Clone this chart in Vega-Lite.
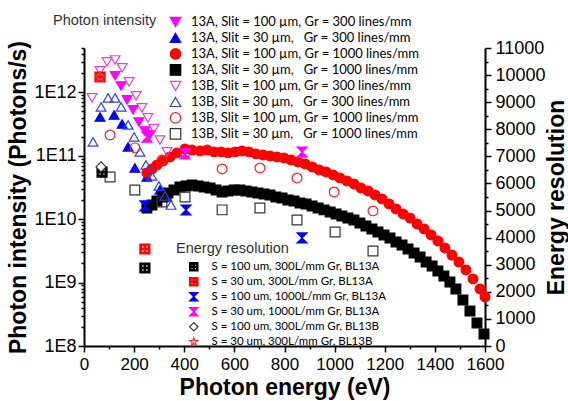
{
  "$schema": "https://vega.github.io/schema/vega-lite/v6.json",
  "width": 401,
  "height": 298,
  "autosize": {"type": "none"},
  "padding": {"left": 84, "top": 48, "right": 83, "bottom": 55},
  "config": {
    "view": {"stroke": null},
    "axis": {"grid": false, "domainColor": "black", "domainWidth": 2, "tickColor": "black", "tickWidth": 1.5, "labelColor": "black", "titleColor": "black", "labelFont": "Liberation Sans", "titleFont": "Liberation Sans", "labelFlush": false, "labelOverlap": false, "titleFontWeight": "bold", "titleFontSize": 23}
  },
  "datasets": {
    "intensity": [
      {"s": "13A, Slit = 100 µm, Gr = 300 lines/mm", "e": 124, "v": 1.82e12},
      {"s": "13A, Slit = 100 µm, Gr = 300 lines/mm", "e": 148, "v": 1.26e12},
      {"s": "13A, Slit = 100 µm, Gr = 300 lines/mm", "e": 172, "v": 7.59e11},
      {"s": "13A, Slit = 100 µm, Gr = 300 lines/mm", "e": 196, "v": 5.28e11},
      {"s": "13A, Slit = 100 µm, Gr = 300 lines/mm", "e": 219, "v": 3.41e11},
      {"s": "13A, Slit = 100 µm, Gr = 300 lines/mm", "e": 243, "v": 2.46e11},
      {"s": "13A, Slit = 100 µm, Gr = 300 lines/mm", "e": 263, "v": 2.13e11},

      {"s": "13A, Slit = 30 µm,\u00a0\u00a0 Gr = 300 lines/mm", "e": 64, "v": 4.09e11},
      {"s": "13A, Slit = 30 µm,\u00a0\u00a0 Gr = 300 lines/mm", "e": 120, "v": 4.40e11},
      {"s": "13A, Slit = 30 µm,\u00a0\u00a0 Gr = 300 lines/mm", "e": 152, "v": 3.17e11},
      {"s": "13A, Slit = 30 µm,\u00a0\u00a0 Gr = 300 lines/mm", "e": 176, "v": 1.38e11},
      {"s": "13A, Slit = 30 µm,\u00a0\u00a0 Gr = 300 lines/mm", "e": 203, "v": 6.43e10},
      {"s": "13A, Slit = 30 µm,\u00a0\u00a0 Gr = 300 lines/mm", "e": 251, "v": 4.63e10},
      {"s": "13A, Slit = 30 µm,\u00a0\u00a0 Gr = 300 lines/mm", "e": 303, "v": 2.89e10},
      {"s": "13A, Slit = 30 µm,\u00a0\u00a0 Gr = 300 lines/mm", "e": 331, "v": 2.24e10},

      {"s": "13A, Slit = 100 µm, Gr = 1000 lines/mm", "e": 251, "v": 5.36e10},
      {"s": "13A, Slit = 100 µm, Gr = 1000 lines/mm", "e": 271, "v": 6.19e10},
      {"s": "13A, Slit = 100 µm, Gr = 1000 lines/mm", "e": 291, "v": 7.16e10},
      {"s": "13A, Slit = 100 µm, Gr = 1000 lines/mm", "e": 315, "v": 8.28e10},
      {"s": "13A, Slit = 100 µm, Gr = 1000 lines/mm", "e": 343, "v": 9.57e10},
      {"s": "13A, Slit = 100 µm, Gr = 1000 lines/mm", "e": 371, "v": 1.11e11},
      {"s": "13A, Slit = 100 µm, Gr = 1000 lines/mm", "e": 403, "v": 1.28e11},
      {"s": "13A, Slit = 100 µm, Gr = 1000 lines/mm", "e": 431, "v": 1.23e11},
      {"s": "13A, Slit = 100 µm, Gr = 1000 lines/mm", "e": 463, "v": 1.19e11},
      {"s": "13A, Slit = 100 µm, Gr = 1000 lines/mm", "e": 491, "v": 1.23e11},
      {"s": "13A, Slit = 100 µm, Gr = 1000 lines/mm", "e": 519, "v": 1.15e11},
      {"s": "13A, Slit = 100 µm, Gr = 1000 lines/mm", "e": 547, "v": 1.15e11},
      {"s": "13A, Slit = 100 µm, Gr = 1000 lines/mm", "e": 575, "v": 1.11e11},
      {"s": "13A, Slit = 100 µm, Gr = 1000 lines/mm", "e": 603, "v": 1.15e11},
      {"s": "13A, Slit = 100 µm, Gr = 1000 lines/mm", "e": 630, "v": 1.19e11},
      {"s": "13A, Slit = 100 µm, Gr = 1000 lines/mm", "e": 658, "v": 1.15e11},
      {"s": "13A, Slit = 100 µm, Gr = 1000 lines/mm", "e": 686, "v": 1.07e11},
      {"s": "13A, Slit = 100 µm, Gr = 1000 lines/mm", "e": 714, "v": 1.03e11},
      {"s": "13A, Slit = 100 µm, Gr = 1000 lines/mm", "e": 742, "v": 9.93e10},
      {"s": "13A, Slit = 100 µm, Gr = 1000 lines/mm", "e": 770, "v": 9.57e10},
      {"s": "13A, Slit = 100 µm, Gr = 1000 lines/mm", "e": 798, "v": 9.23e10},
      {"s": "13A, Slit = 100 µm, Gr = 1000 lines/mm", "e": 826, "v": 8.59e10},
      {"s": "13A, Slit = 100 µm, Gr = 1000 lines/mm", "e": 854, "v": 7.98e10},
      {"s": "13A, Slit = 100 µm, Gr = 1000 lines/mm", "e": 882, "v": 7.43e10},
      {"s": "13A, Slit = 100 µm, Gr = 1000 lines/mm", "e": 910, "v": 6.66e10},
      {"s": "13A, Slit = 100 µm, Gr = 1000 lines/mm", "e": 938, "v": 5.97e10},
      {"s": "13A, Slit = 100 µm, Gr = 1000 lines/mm", "e": 966, "v": 5.55e10},
      {"s": "13A, Slit = 100 µm, Gr = 1000 lines/mm", "e": 994, "v": 4.98e10},
      {"s": "13A, Slit = 100 µm, Gr = 1000 lines/mm", "e": 1021, "v": 4.47e10},
      {"s": "13A, Slit = 100 µm, Gr = 1000 lines/mm", "e": 1049, "v": 4.01e10},
      {"s": "13A, Slit = 100 µm, Gr = 1000 lines/mm", "e": 1077, "v": 3.59e10},
      {"s": "13A, Slit = 100 µm, Gr = 1000 lines/mm", "e": 1105, "v": 3.10e10},
      {"s": "13A, Slit = 100 µm, Gr = 1000 lines/mm", "e": 1133, "v": 2.79e10},
      {"s": "13A, Slit = 100 µm, Gr = 1000 lines/mm", "e": 1161, "v": 2.41e10},
      {"s": "13A, Slit = 100 µm, Gr = 1000 lines/mm", "e": 1189, "v": 2.08e10},
      {"s": "13A, Slit = 100 µm, Gr = 1000 lines/mm", "e": 1217, "v": 1.74e10},
      {"s": "13A, Slit = 100 µm, Gr = 1000 lines/mm", "e": 1245, "v": 1.45e10},
      {"s": "13A, Slit = 100 µm, Gr = 1000 lines/mm", "e": 1273, "v": 1.21e10},
      {"s": "13A, Slit = 100 µm, Gr = 1000 lines/mm", "e": 1301, "v": 1.04e10},
      {"s": "13A, Slit = 100 µm, Gr = 1000 lines/mm", "e": 1329, "v": 8.40e9},
      {"s": "13A, Slit = 100 µm, Gr = 1000 lines/mm", "e": 1357, "v": 7.00e9},
      {"s": "13A, Slit = 100 µm, Gr = 1000 lines/mm", "e": 1385, "v": 5.64e9},
      {"s": "13A, Slit = 100 µm, Gr = 1000 lines/mm", "e": 1412, "v": 4.53e9},
      {"s": "13A, Slit = 100 µm, Gr = 1000 lines/mm", "e": 1440, "v": 3.51e9},
      {"s": "13A, Slit = 100 µm, Gr = 1000 lines/mm", "e": 1468, "v": 2.72e9},
      {"s": "13A, Slit = 100 µm, Gr = 1000 lines/mm", "e": 1496, "v": 2.11e9},
      {"s": "13A, Slit = 100 µm, Gr = 1000 lines/mm", "e": 1524, "v": 1.58e9},
      {"s": "13A, Slit = 100 µm, Gr = 1000 lines/mm", "e": 1552, "v": 1.14e9},
      {"s": "13A, Slit = 100 µm, Gr = 1000 lines/mm", "e": 1580, "v": 7.93e8},
      {"s": "13A, Slit = 100 µm, Gr = 1000 lines/mm", "e": 1600, "v": 5.93e8},

      {"s": "13A, Slit = 30 µm,\u00a0\u00a0 Gr = 1000 lines/mm", "e": 251, "v": 1.50e10},
      {"s": "13A, Slit = 30 µm,\u00a0\u00a0 Gr = 1000 lines/mm", "e": 271, "v": 1.67e10},
      {"s": "13A, Slit = 30 µm,\u00a0\u00a0 Gr = 1000 lines/mm", "e": 291, "v": 1.94e10},
      {"s": "13A, Slit = 30 µm,\u00a0\u00a0 Gr = 1000 lines/mm", "e": 315, "v": 2.24e10},
      {"s": "13A, Slit = 30 µm,\u00a0\u00a0 Gr = 1000 lines/mm", "e": 335, "v": 2.59e10},
      {"s": "13A, Slit = 30 µm,\u00a0\u00a0 Gr = 1000 lines/mm", "e": 359, "v": 2.89e10},
      {"s": "13A, Slit = 30 µm,\u00a0\u00a0 Gr = 1000 lines/mm", "e": 383, "v": 3.22e10},
      {"s": "13A, Slit = 30 µm,\u00a0\u00a0 Gr = 1000 lines/mm", "e": 407, "v": 3.34e10},
      {"s": "13A, Slit = 30 µm,\u00a0\u00a0 Gr = 1000 lines/mm", "e": 431, "v": 3.46e10},
      {"s": "13A, Slit = 30 µm,\u00a0\u00a0 Gr = 1000 lines/mm", "e": 455, "v": 3.34e10},
      {"s": "13A, Slit = 30 µm,\u00a0\u00a0 Gr = 1000 lines/mm", "e": 479, "v": 3.22e10},
      {"s": "13A, Slit = 30 µm,\u00a0\u00a0 Gr = 1000 lines/mm", "e": 503, "v": 3.10e10},
      {"s": "13A, Slit = 30 µm,\u00a0\u00a0 Gr = 1000 lines/mm", "e": 527, "v": 2.89e10},
      {"s": "13A, Slit = 30 µm,\u00a0\u00a0 Gr = 1000 lines/mm", "e": 551, "v": 2.69e10},
      {"s": "13A, Slit = 30 µm,\u00a0\u00a0 Gr = 1000 lines/mm", "e": 575, "v": 2.79e10},
      {"s": "13A, Slit = 30 µm,\u00a0\u00a0 Gr = 1000 lines/mm", "e": 599, "v": 2.89e10},
      {"s": "13A, Slit = 30 µm,\u00a0\u00a0 Gr = 1000 lines/mm", "e": 622, "v": 2.89e10},
      {"s": "13A, Slit = 30 µm,\u00a0\u00a0 Gr = 1000 lines/mm", "e": 646, "v": 2.79e10},
      {"s": "13A, Slit = 30 µm,\u00a0\u00a0 Gr = 1000 lines/mm", "e": 670, "v": 2.69e10},
      {"s": "13A, Slit = 30 µm,\u00a0\u00a0 Gr = 1000 lines/mm", "e": 694, "v": 2.59e10},
      {"s": "13A, Slit = 30 µm,\u00a0\u00a0 Gr = 1000 lines/mm", "e": 718, "v": 2.50e10},
      {"s": "13A, Slit = 30 µm,\u00a0\u00a0 Gr = 1000 lines/mm", "e": 742, "v": 2.41e10},
      {"s": "13A, Slit = 30 µm,\u00a0\u00a0 Gr = 1000 lines/mm", "e": 766, "v": 2.24e10},
      {"s": "13A, Slit = 30 µm,\u00a0\u00a0 Gr = 1000 lines/mm", "e": 790, "v": 2.16e10},
      {"s": "13A, Slit = 30 µm,\u00a0\u00a0 Gr = 1000 lines/mm", "e": 814, "v": 2.01e10},
      {"s": "13A, Slit = 30 µm,\u00a0\u00a0 Gr = 1000 lines/mm", "e": 838, "v": 1.94e10},
      {"s": "13A, Slit = 30 µm,\u00a0\u00a0 Gr = 1000 lines/mm", "e": 862, "v": 1.80e10},
      {"s": "13A, Slit = 30 µm,\u00a0\u00a0 Gr = 1000 lines/mm", "e": 886, "v": 1.73e10},
      {"s": "13A, Slit = 30 µm,\u00a0\u00a0 Gr = 1000 lines/mm", "e": 910, "v": 1.61e10},
      {"s": "13A, Slit = 30 µm,\u00a0\u00a0 Gr = 1000 lines/mm", "e": 934, "v": 1.50e10},
      {"s": "13A, Slit = 30 µm,\u00a0\u00a0 Gr = 1000 lines/mm", "e": 958, "v": 1.40e10},
      {"s": "13A, Slit = 30 µm,\u00a0\u00a0 Gr = 1000 lines/mm", "e": 982, "v": 1.30e10},
      {"s": "13A, Slit = 30 µm,\u00a0\u00a0 Gr = 1000 lines/mm", "e": 1006, "v": 1.21e10},
      {"s": "13A, Slit = 30 µm,\u00a0\u00a0 Gr = 1000 lines/mm", "e": 1029, "v": 1.12e10},
      {"s": "13A, Slit = 30 µm,\u00a0\u00a0 Gr = 1000 lines/mm", "e": 1053, "v": 1.04e10},
      {"s": "13A, Slit = 30 µm,\u00a0\u00a0 Gr = 1000 lines/mm", "e": 1077, "v": 9.71e9},
      {"s": "13A, Slit = 30 µm,\u00a0\u00a0 Gr = 1000 lines/mm", "e": 1101, "v": 8.71e9},
      {"s": "13A, Slit = 30 µm,\u00a0\u00a0 Gr = 1000 lines/mm", "e": 1125, "v": 7.81e9},
      {"s": "13A, Slit = 30 µm,\u00a0\u00a0 Gr = 1000 lines/mm", "e": 1149, "v": 7.00e9},
      {"s": "13A, Slit = 30 µm,\u00a0\u00a0 Gr = 1000 lines/mm", "e": 1173, "v": 6.28e9},
      {"s": "13A, Slit = 30 µm,\u00a0\u00a0 Gr = 1000 lines/mm", "e": 1197, "v": 5.64e9},
      {"s": "13A, Slit = 30 µm,\u00a0\u00a0 Gr = 1000 lines/mm", "e": 1221, "v": 5.05e9},
      {"s": "13A, Slit = 30 µm,\u00a0\u00a0 Gr = 1000 lines/mm", "e": 1245, "v": 4.37e9},
      {"s": "13A, Slit = 30 µm,\u00a0\u00a0 Gr = 1000 lines/mm", "e": 1269, "v": 3.92e9},
      {"s": "13A, Slit = 30 µm,\u00a0\u00a0 Gr = 1000 lines/mm", "e": 1293, "v": 3.39e9},
      {"s": "13A, Slit = 30 µm,\u00a0\u00a0 Gr = 1000 lines/mm", "e": 1317, "v": 2.93e9},
      {"s": "13A, Slit = 30 µm,\u00a0\u00a0 Gr = 1000 lines/mm", "e": 1341, "v": 2.53e9},
      {"s": "13A, Slit = 30 µm,\u00a0\u00a0 Gr = 1000 lines/mm", "e": 1365, "v": 2.11e9},
      {"s": "13A, Slit = 30 µm,\u00a0\u00a0 Gr = 1000 lines/mm", "e": 1389, "v": 1.83e9},
      {"s": "13A, Slit = 30 µm,\u00a0\u00a0 Gr = 1000 lines/mm", "e": 1412, "v": 1.52e9},
      {"s": "13A, Slit = 30 µm,\u00a0\u00a0 Gr = 1000 lines/mm", "e": 1436, "v": 1.27e9},
      {"s": "13A, Slit = 30 µm,\u00a0\u00a0 Gr = 1000 lines/mm", "e": 1460, "v": 1.02e9},
      {"s": "13A, Slit = 30 µm,\u00a0\u00a0 Gr = 1000 lines/mm", "e": 1484, "v": 7.93e8},
      {"s": "13A, Slit = 30 µm,\u00a0\u00a0 Gr = 1000 lines/mm", "e": 1512, "v": 5.32e8},
      {"s": "13A, Slit = 30 µm,\u00a0\u00a0 Gr = 1000 lines/mm", "e": 1540, "v": 3.56e8},
      {"s": "13A, Slit = 30 µm,\u00a0\u00a0 Gr = 1000 lines/mm", "e": 1568, "v": 2.31e8},
      {"s": "13A, Slit = 30 µm,\u00a0\u00a0 Gr = 1000 lines/mm", "e": 1596, "v": 1.55e8},

      {"s": "13B, Slit = 100 µm, Gr = 300 lines/mm", "e": 32, "v": 8.16e11},
      {"s": "13B, Slit = 100 µm, Gr = 300 lines/mm", "e": 64, "v": 2.18e12},
      {"s": "13B, Slit = 100 µm, Gr = 300 lines/mm", "e": 92, "v": 3.02e12},
      {"s": "13B, Slit = 100 µm, Gr = 300 lines/mm", "e": 124, "v": 3.24e12},
      {"s": "13B, Slit = 100 µm, Gr = 300 lines/mm", "e": 152, "v": 2.43e12},
      {"s": "13B, Slit = 100 µm, Gr = 300 lines/mm", "e": 180, "v": 1.46e12},
      {"s": "13B, Slit = 100 µm, Gr = 300 lines/mm", "e": 208, "v": 8.77e11},
      {"s": "13B, Slit = 100 µm, Gr = 300 lines/mm", "e": 231, "v": 5.68e11},
      {"s": "13B, Slit = 100 µm, Gr = 300 lines/mm", "e": 255, "v": 3.95e11},
      {"s": "13B, Slit = 100 µm, Gr = 300 lines/mm", "e": 279, "v": 2.65e11},
      {"s": "13B, Slit = 100 µm, Gr = 300 lines/mm", "e": 303, "v": 1.77e11},
      {"s": "13B, Slit = 100 µm, Gr = 300 lines/mm", "e": 331, "v": 1.15e11},

      {"s": "13B, Slit = 30 µm,\u00a0\u00a0 Gr = 300 lines/mm", "e": 36, "v": 1.65e11},
      {"s": "13B, Slit = 30 µm,\u00a0\u00a0 Gr = 300 lines/mm", "e": 68, "v": 5.89e11},
      {"s": "13B, Slit = 30 µm,\u00a0\u00a0 Gr = 300 lines/mm", "e": 96, "v": 8.16e11},
      {"s": "13B, Slit = 30 µm,\u00a0\u00a0 Gr = 300 lines/mm", "e": 124, "v": 8.16e11},
      {"s": "13B, Slit = 30 µm,\u00a0\u00a0 Gr = 300 lines/mm", "e": 148, "v": 5.89e11},
      {"s": "13B, Slit = 30 µm,\u00a0\u00a0 Gr = 300 lines/mm", "e": 176, "v": 3.06e11},
      {"s": "13B, Slit = 30 µm,\u00a0\u00a0 Gr = 300 lines/mm", "e": 200, "v": 1.98e11},
      {"s": "13B, Slit = 30 µm,\u00a0\u00a0 Gr = 300 lines/mm", "e": 223, "v": 1.15e11},
      {"s": "13B, Slit = 30 µm,\u00a0\u00a0 Gr = 300 lines/mm", "e": 247, "v": 7.16e10},
      {"s": "13B, Slit = 30 µm,\u00a0\u00a0 Gr = 300 lines/mm", "e": 271, "v": 4.80e10},
      {"s": "13B, Slit = 30 µm,\u00a0\u00a0 Gr = 300 lines/mm", "e": 299, "v": 3.34e10},
      {"s": "13B, Slit = 30 µm,\u00a0\u00a0 Gr = 300 lines/mm", "e": 323, "v": 2.32e10},
      {"s": "13B, Slit = 30 µm,\u00a0\u00a0 Gr = 300 lines/mm", "e": 347, "v": 1.67e10},

      {"s": "13B, Slit = 100 µm, Gr = 1000 lines/mm", "e": 104, "v": 2.13e11},
      {"s": "13B, Slit = 100 µm, Gr = 1000 lines/mm", "e": 203, "v": 1.33e11},
      {"s": "13B, Slit = 100 µm, Gr = 1000 lines/mm", "e": 311, "v": 8.59e10},
      {"s": "13B, Slit = 100 µm, Gr = 1000 lines/mm", "e": 403, "v": 1.11e11},
      {"s": "13B, Slit = 100 µm, Gr = 1000 lines/mm", "e": 551, "v": 6.19e10},
      {"s": "13B, Slit = 100 µm, Gr = 1000 lines/mm", "e": 702, "v": 6.43e10},
      {"s": "13B, Slit = 100 µm, Gr = 1000 lines/mm", "e": 850, "v": 4.47e10},
      {"s": "13B, Slit = 100 µm, Gr = 1000 lines/mm", "e": 998, "v": 2.69e10},
      {"s": "13B, Slit = 100 µm, Gr = 1000 lines/mm", "e": 1153, "v": 1.35e10},

      {"s": "13B, Slit = 30 µm,\u00a0\u00a0 Gr = 1000 lines/mm", "e": 104, "v": 4.63e10},
      {"s": "13B, Slit = 30 µm,\u00a0\u00a0 Gr = 1000 lines/mm", "e": 203, "v": 2.89e10},
      {"s": "13B, Slit = 30 µm,\u00a0\u00a0 Gr = 1000 lines/mm", "e": 311, "v": 1.87e10},
      {"s": "13B, Slit = 30 µm,\u00a0\u00a0 Gr = 1000 lines/mm", "e": 403, "v": 2.24e10},
      {"s": "13B, Slit = 30 µm,\u00a0\u00a0 Gr = 1000 lines/mm", "e": 551, "v": 1.40e10},
      {"s": "13B, Slit = 30 µm,\u00a0\u00a0 Gr = 1000 lines/mm", "e": 702, "v": 1.50e10},
      {"s": "13B, Slit = 30 µm,\u00a0\u00a0 Gr = 1000 lines/mm", "e": 850, "v": 9.71e9},
      {"s": "13B, Slit = 30 µm,\u00a0\u00a0 Gr = 1000 lines/mm", "e": 1002, "v": 6.28e9},
      {"s": "13B, Slit = 30 µm,\u00a0\u00a0 Gr = 1000 lines/mm", "e": 1153, "v": 3.15e9}
    ],
    "resolution": [
      {"s": "S = 100 um, 300L/mm Gr, BL13A", "e": 72, "r": 6420},
      {"s": "S = 100 um, 300L/mm Gr, BL13A", "e": 243, "r": 2880},
      {"s": "S = 30 um, 300L/mm Gr, BL13A", "e": 64, "r": 9930},
      {"s": "S = 30 um, 300L/mm Gr, BL13A", "e": 243, "r": 3580},
      {"s": "S = 100 um, 1000L/mm Gr, BL13A", "e": 243, "r": 5170},
      {"s": "S = 100 um, 1000L/mm Gr, BL13A", "e": 407, "r": 5020},
      {"s": "S = 100 um, 1000L/mm Gr, BL13A", "e": 870, "r": 3990},
      {"s": "S = 30 um, 1000L/mm Gr, BL13A", "e": 251, "r": 7710},
      {"s": "S = 30 um, 1000L/mm Gr, BL13A", "e": 403, "r": 7090},
      {"s": "S = 30 um, 1000L/mm Gr, BL13A", "e": 870, "r": 7160},
      {"s": "S = 100 um, 300L/mm Gr, BL13B", "e": 68, "r": 6610},
      {"s": "S = 30 um, 300L/mm Gr, BL13B", "e": 64, "r": 9930}
    ]
  },
  "encoding": {
    "x": {
      "field": "e", "type": "quantitative",
      "scale": {"domain": [0, 1600], "nice": false},
      "axis": {
        "title": "Photon energy (eV)",
        "values": [0, 100, 200, 300, 400, 500, 600, 700, 800, 900, 1000, 1100, 1200, 1300, 1400, 1500, 1600],
        "labelExpr": "datum.value % 200 == 0 ? '' + datum.value : ''",
        "tickSize": {"condition": {"test": "datum.value % 200 == 0", "value": 6}, "value": 3},
        "labelFontSize": 17, "labelPadding": 4, "titlePadding": 4
      }
    }
  },
  "layer": [
    {
      "data": {"name": "intensity"},
      "mark": {"type": "point", "filled": true, "opacity": 1, "size": 95, "strokeWidth": 1.2},
      "encoding": {
        "y": {
          "field": "v", "type": "quantitative",
          "scale": {"type": "log", "domain": [1e8, 5e12], "nice": false},
          "axis": {
            "orient": "left",
            "title": "Photon intensity (Photons/s)",
            "values": [1e8, 2e8, 3e8, 4e8, 5e8, 6e8, 7e8, 8e8, 9e8, 1e9, 2e9, 3e9, 4e9, 5e9, 6e9, 7e9, 8e9, 9e9, 1e10, 2e10, 3e10, 4e10, 5e10, 6e10, 7e10, 8e10, 9e10, 1e11, 2e11, 3e11, 4e11, 5e11, 6e11, 7e11, 8e11, 9e11, 1e12, 2e12, 3e12, 4e12, 5e12],
            "labelExpr": "datum.value == 1e8 ? '1E8' : datum.value == 1e9 ? '1E9' : datum.value == 1e10 ? '1E10' : datum.value == 1e11 ? '1E11' : datum.value == 1e12 ? '1E12' : ''",
            "tickSize": {"condition": {"test": "datum.value == 1e8 || datum.value == 1e9 || datum.value == 1e10 || datum.value == 1e11 || datum.value == 1e12", "value": 6}, "value": 3},
            "labelFontSize": 18, "labelPadding": 2, "titlePadding": 3
          }
        },
        "shape": {
          "field": "s", "type": "nominal",
          "scale": {
            "domain": ["13A, Slit = 100 µm, Gr = 300 lines/mm", "13A, Slit = 30 µm,\u00a0\u00a0 Gr = 300 lines/mm", "13A, Slit = 100 µm, Gr = 1000 lines/mm", "13A, Slit = 30 µm,\u00a0\u00a0 Gr = 1000 lines/mm", "13B, Slit = 100 µm, Gr = 300 lines/mm", "13B, Slit = 30 µm,\u00a0\u00a0 Gr = 300 lines/mm", "13B, Slit = 100 µm, Gr = 1000 lines/mm", "13B, Slit = 30 µm,\u00a0\u00a0 Gr = 1000 lines/mm"],
            "range": ["triangle-down", "triangle-up", "circle", "square", "triangle-down", "triangle-up", "circle", "square"]
          },
          "legend": {"orient": "none", "legendX": -31, "legendY": -34, "title": "Photon intensity", "titleOrient": "left", "titleAnchor": "start", "titleFont": "Liberation Sans", "titleFontSize": 14.5, "titleFontWeight": "normal", "titleColor": "#333333", "titlePadding": 12, "labelFont": "Lato", "labelFontSize": 13, "labelColor": "black", "labelLimit": 400, "labelOffset": 9, "symbolSize": 110, "symbolStrokeWidth": 1.2, "clipHeight": 15.9, "rowPadding": 0, "padding": 0}
        },
        "fill": {
          "field": "s", "type": "nominal",
          "scale": {
            "domain": ["13A, Slit = 100 µm, Gr = 300 lines/mm", "13A, Slit = 30 µm,\u00a0\u00a0 Gr = 300 lines/mm", "13A, Slit = 100 µm, Gr = 1000 lines/mm", "13A, Slit = 30 µm,\u00a0\u00a0 Gr = 1000 lines/mm", "13B, Slit = 100 µm, Gr = 300 lines/mm", "13B, Slit = 30 µm,\u00a0\u00a0 Gr = 300 lines/mm", "13B, Slit = 100 µm, Gr = 1000 lines/mm", "13B, Slit = 30 µm,\u00a0\u00a0 Gr = 1000 lines/mm"],
            "range": ["#ff00ff", "#0000ff", "#ff0000", "#000000", "transparent", "transparent", "transparent", "transparent"]
          },
          "legend": {"orient": "none", "legendX": -31, "legendY": -34, "title": "Photon intensity", "titleOrient": "left", "titleAnchor": "start", "titleFont": "Liberation Sans", "titleFontSize": 14.5, "titleFontWeight": "normal", "titleColor": "#333333", "titlePadding": 12, "labelFont": "Lato", "labelFontSize": 13, "labelColor": "black", "labelLimit": 400, "labelOffset": 9, "symbolSize": 110, "symbolStrokeWidth": 1.2, "clipHeight": 15.9, "rowPadding": 0, "padding": 0}
        },
        "stroke": {
          "field": "s", "type": "nominal",
          "scale": {
            "domain": ["13A, Slit = 100 µm, Gr = 300 lines/mm", "13A, Slit = 30 µm,\u00a0\u00a0 Gr = 300 lines/mm", "13A, Slit = 100 µm, Gr = 1000 lines/mm", "13A, Slit = 30 µm,\u00a0\u00a0 Gr = 1000 lines/mm", "13B, Slit = 100 µm, Gr = 300 lines/mm", "13B, Slit = 30 µm,\u00a0\u00a0 Gr = 300 lines/mm", "13B, Slit = 100 µm, Gr = 1000 lines/mm", "13B, Slit = 30 µm,\u00a0\u00a0 Gr = 1000 lines/mm"],
            "range": ["#ff00ff", "#0000ff", "#ff0000", "#000000", "#e040e0", "#3040ff", "#ff2020", "#333333"]
          },
          "legend": {"orient": "none", "legendX": -31, "legendY": -34, "title": "Photon intensity", "titleOrient": "left", "titleAnchor": "start", "titleFont": "Liberation Sans", "titleFontSize": 14.5, "titleFontWeight": "normal", "titleColor": "#333333", "titlePadding": 12, "labelFont": "Lato", "labelFontSize": 13, "labelColor": "black", "labelLimit": 400, "labelOffset": 9, "symbolSize": 110, "symbolStrokeWidth": 1.2, "clipHeight": 15.9, "rowPadding": 0, "padding": 0}
        }
      }
    },
    {
      "data": {"name": "resolution"},
      "mark": {"type": "point", "filled": true, "opacity": 1, "size": 100, "strokeWidth": 1.2},
      "encoding": {
        "y": {
          "field": "r", "type": "quantitative",
          "scale": {"domain": [0, 11000], "nice": false},
          "axis": {
            "orient": "right",
            "title": "Energy resolution",
            "values": [0, 500, 1000, 1500, 2000, 2500, 3000, 3500, 4000, 4500, 5000, 5500, 6000, 6500, 7000, 7500, 8000, 8500, 9000, 9500, 10000, 10500, 11000],
            "labelExpr": "datum.value % 1000 == 0 ? '' + datum.value : ''",
            "tickSize": {"condition": {"test": "datum.value % 1000 == 0", "value": 6}, "value": 3},
            "labelFontSize": 18, "labelPadding": 4, "titlePadding": 0,
            "titleAngle": -90, "titleBaseline": "top"
          }
        },
        "shape": {
          "field": "s", "type": "nominal",
          "scale": {
            "domain": ["S = 100 um, 300L/mm Gr, BL13A", "S = 30 um, 300L/mm Gr, BL13A", "S = 100 um, 1000L/mm Gr, BL13A", "S = 30 um, 1000L/mm Gr, BL13A", "S = 100 um, 300L/mm Gr, BL13B", "S = 30 um, 300L/mm Gr, BL13B"],
            "range": ["M-1,-1L1,-1L1,1L-1,1Z M-0.65,-0.65L-0.65,-0.15L-0.15,-0.15L-0.15,-0.65Z M0.15,-0.65L0.15,-0.15L0.65,-0.15L0.65,-0.65Z M-0.65,0.15L-0.65,0.65L-0.15,0.65L-0.15,0.15Z M0.15,0.15L0.15,0.65L0.65,0.65L0.65,0.15Z", "M-1,-1L1,-1L1,1L-1,1Z M-0.65,-0.65L-0.65,-0.15L-0.15,-0.15L-0.15,-0.65Z M0.15,-0.65L0.15,-0.15L0.65,-0.15L0.65,-0.65Z M-0.65,0.15L-0.65,0.65L-0.15,0.65L-0.15,0.15Z M0.15,0.15L0.15,0.65L0.65,0.65L0.65,0.15Z", "M-1,-1L1,-1L-1,1L1,1Z", "M-1,-1L1,-1L-1,1L1,1Z", "diamond", "M0,-1L0.235,-0.324L0.951,-0.309L0.38,0.124L0.588,0.809L0,0.4L-0.588,0.809L-0.38,0.124L-0.951,-0.309L-0.235,-0.324Z"]
          },
          "legend": {"orient": "none", "legendX": 92, "legendY": 194, "title": "Energy resolution", "titleFont": "Liberation Sans", "titleFontSize": 14.5, "titleFontWeight": "normal", "titleColor": "#333333", "titlePadding": 3, "labelFont": "Lato", "labelFontSize": 11.5, "labelColor": "black", "labelLimit": 400, "labelOffset": 12, "symbolSize": 70, "symbolStrokeWidth": 1.2, "symbolOffset": 12, "clipHeight": 14.6, "rowPadding": 0, "padding": 0}
        },
        "fill": {
          "field": "s", "type": "nominal",
          "scale": {
            "domain": ["S = 100 um, 300L/mm Gr, BL13A", "S = 30 um, 300L/mm Gr, BL13A", "S = 100 um, 1000L/mm Gr, BL13A", "S = 30 um, 1000L/mm Gr, BL13A", "S = 100 um, 300L/mm Gr, BL13B", "S = 30 um, 300L/mm Gr, BL13B"],
            "range": ["#000000", "#ff0000", "#0000ff", "#ff00ff", "white", "transparent"]
          },
          "legend": {"orient": "none", "legendX": 92, "legendY": 194, "title": "Energy resolution", "titleFont": "Liberation Sans", "titleFontSize": 14.5, "titleFontWeight": "normal", "titleColor": "#333333", "titlePadding": 3, "labelFont": "Lato", "labelFontSize": 11.5, "labelColor": "black", "labelLimit": 400, "labelOffset": 12, "symbolSize": 70, "symbolStrokeWidth": 1.2, "symbolOffset": 12, "clipHeight": 14.6, "rowPadding": 0, "padding": 0}
        },
        "stroke": {
          "field": "s", "type": "nominal",
          "scale": {
            "domain": ["S = 100 um, 300L/mm Gr, BL13A", "S = 30 um, 300L/mm Gr, BL13A", "S = 100 um, 1000L/mm Gr, BL13A", "S = 30 um, 1000L/mm Gr, BL13A", "S = 100 um, 300L/mm Gr, BL13B", "S = 30 um, 300L/mm Gr, BL13B"],
            "range": ["#000000", "#ff0000", "#0000ff", "#ff00ff", "#333333", "#ff3030"]
          },
          "legend": {"orient": "none", "legendX": 92, "legendY": 194, "title": "Energy resolution", "titleFont": "Liberation Sans", "titleFontSize": 14.5, "titleFontWeight": "normal", "titleColor": "#333333", "titlePadding": 3, "labelFont": "Lato", "labelFontSize": 11.5, "labelColor": "black", "labelLimit": 400, "labelOffset": 12, "symbolSize": 70, "symbolStrokeWidth": 1.2, "symbolOffset": 12, "clipHeight": 14.6, "rowPadding": 0, "padding": 0}
        }
      }
    }
  ],
  "resolve": {"scale": {"y": "independent", "shape": "independent", "fill": "independent", "stroke": "independent"}}
}
